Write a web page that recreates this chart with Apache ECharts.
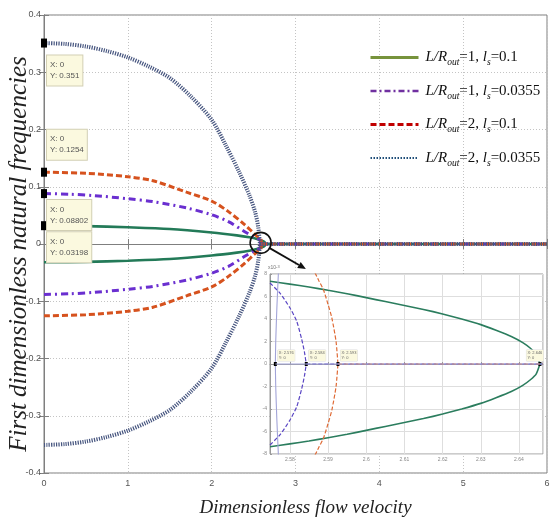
<!DOCTYPE html>
<html>
<head>
<meta charset="utf-8">
<title>First dimensionless natural frequencies</title>
<script src="https://cdn.jsdelivr.net/npm/echarts@6.0.0/dist/echarts.min.js"></script>
<style>
html, body { margin: 0; padding: 0; background: #fff; }
#box01 { width: 551px; height: 519px; }
</style>
</head>
<body>
<div id="box01"></div>
<script>
// ---- values (upper branches; the lower ones mirror them) ----
var nameA = 'L/Rout=1, ls=0.1';
var nameB = 'L/Rout=1, ls=0.0355';
var nameC = 'L/Rout=2, ls=0.1';
var nameD = 'L/Rout=2, ls=0.0355';

// main plot, dimensionless flow velocity / frequency
var velA  = [0, 0.5, 1.0, 1.5, 2.0, 2.3, 2.45, 2.55, 2.6, 2.63, 2.646];
var freqA = [0.03198, 0.0312, 0.0292, 0.0262, 0.0200, 0.0150, 0.0117, 0.0085, 0.0059, 0.0035, 0];

var velB  = [0, 0.3, 0.6, 1.0, 1.3, 1.7, 2.0, 2.2, 2.4, 2.5, 2.55, 2.575, 2.584];
var freqB = [0.08802, 0.0870, 0.0845, 0.0790, 0.0740, 0.0630, 0.0510, 0.0390, 0.0210, 0.0125, 0.0095, 0.0072, 0];

var velC  = [0, 0.5, 1.0, 1.3, 1.7, 2.0, 2.2, 2.4, 2.5, 2.55, 2.5867, 2.5926];
var freqC = [0.1254, 0.1235, 0.1175, 0.1105, 0.0905, 0.0750, 0.0565, 0.0330, 0.0190, 0.0125, 0.0083, 0];

var velD  = [0, 0.25, 0.5, 0.75, 1.0, 1.25, 1.5, 1.75, 2.0, 2.17, 2.33, 2.45, 2.52, 2.555, 2.576];
var freqD = [0.351, 0.3495, 0.345, 0.337, 0.326, 0.310, 0.290, 0.258, 0.217, 0.172, 0.125, 0.085, 0.055, 0.030, 0];

var xTicks = [0, 6];        // main x range
var yTicks = [-0.4, 0.4];   // main y range

// inset (zoom around the critical velocity), frequency in units of 1e-3
var insetVelA  = [2.5748, 2.58, 2.585, 2.59, 2.595, 2.60, 2.605, 2.61, 2.615, 2.62, 2.625, 2.63,
                  2.634, 2.638, 2.641, 2.643, 2.6445, 2.6455];
var insetFreqA = [7.35, 7.1, 6.85, 6.55, 6.25, 5.9, 5.55, 5.2, 4.85, 4.45, 4.0, 3.5,
                  3.0, 2.45, 1.9, 1.4, 0.9, 0];

var insetVelB  = [2.5748, 2.5774, 2.5800, 2.5818, 2.5831, 2.5838, 2.5843];
var insetFreqB = [7.2, 6.3, 5.0, 3.8, 2.2, 1.1, 0];

var insetVelC  = [2.5866, 2.5876, 2.5888, 2.5900, 2.5910, 2.5921, 2.5926];
var insetFreqC = [8.1, 7.4, 6.6, 5.3, 4.1, 2.0, 0];

var insetVelD  = [2.5770, 2.5766, 2.5763, 2.5762];
var insetFreqD = [8.1, 5.0, 2.0, 0];

var insetXRange = [2.5748, 2.6463];
var insetYRange = [-8, 8];
var insetTips = ['X: 2.576', 'X: 2.584', 'X: 2.593', 'X: 2.646'];

// ---- chart ----
var myChart = echarts.init(document.getElementById('box01'));

var serif = 'Liberation Serif, Times New Roman, serif';
var narrow = 'Liberation Sans Narrow, Arial Narrow, Liberation Sans, Arial, sans-serif';

var styleA = {color: '#237a58', width: 2.6, type: 'solid'};
var styleB = {color: '#6a2fd0', width: 3, type: [7, 4, 2, 4]};
var styleC = {color: '#d6521e', width: 3, type: [6, 3]};
var styleD = {color: '#46557f', width: 4, type: [1.2, 1.2]};

var insetStyleA = {color: '#2b7d5e', width: 1.6, type: 'solid'};
var insetStyleB = {color: '#5a46c4', width: 1.2, type: [4, 2]};
var insetStyleC = {color: '#df6a35', width: 1.2, type: [4, 2]};
var insetStyleD = {color: '#a2a4d8', width: 1.1, type: 'solid'};

function branch(name, xs, ys, sign, ls, axis, z, smooth) {
    return {
        name: name, type: 'line', xAxisIndex: axis, yAxisIndex: axis,
        symbol: 'none', smooth: smooth, z: z,
        lineStyle: ls, color: ls.color, emphasis: {disabled: true},
        data: xs.map(function (x, i) { return [x, sign * ys[i]]; })
    };
}

function tip(value, pos) {
    return {
        symbol: 'rect', symbolSize: [6, 9], itemStyle: {color: '#000'},
        label: {
            show: true, position: pos, formatter: 'X: 0\nY: ' + value,
            fontFamily: narrow, fontSize: 8, lineHeight: 11, color: '#555',
            backgroundColor: '#fbf9df', borderColor: '#d2cfb4', borderWidth: 1, padding: [4, 3, 4, 3]
        },
        data: [{coord: [0, value]}]
    };
}

function insetTip(x, text, pos) {
    return {
        symbol: 'rect', symbolSize: [3, 4], itemStyle: {color: '#000'},
        label: {
            show: true, position: pos, formatter: text + '\nY: 0',
            fontFamily: narrow, fontSize: 4, lineHeight: 4.5, color: '#666',
            backgroundColor: '#fbf9df', borderColor: '#ddd', borderWidth: 0.5, padding: [1, 1, 1, 1]
        },
        data: [{coord: [x, 0]}]
    };
}

var curves = [
    {name: nameA, vel: velA, freq: freqA, ls: styleA, tipPos: [6, 11],
     iv: insetVelA, ifr: insetFreqA, ils: insetStyleA, itip: insetTips[3], itipPos: [-12, -12]},
    {name: nameB, vel: velB, freq: freqB, ls: styleB, tipPos: [6, 11],
     iv: insetVelB, ifr: insetFreqB, ils: insetStyleB, itip: insetTips[1], itipPos: [4, -12]},
    {name: nameC, vel: velC, freq: freqC, ls: styleC, tipPos: [6, -38],
     iv: insetVelC, ifr: insetFreqC, ils: insetStyleC, itip: insetTips[2], itipPos: [4, -12]},
    {name: nameD, vel: velD, freq: freqD, ls: styleD, tipPos: [6, 17],
     iv: insetVelD, ifr: insetFreqD, ils: insetStyleD, itip: insetTips[0], itipPos: [4, -12]}
];

var series = [];
curves.forEach(function (c) {
    var up = branch(c.name, c.vel, c.freq, 1, c.ls, 0, 2, 0.3);
    up.markPoint = tip(c.freq[0], c.tipPos);
    series.push(up);
    series.push(branch(c.name, c.vel, c.freq, -1, c.ls, 0, 2, 0.3));
});
curves.forEach(function (c) {
    series.push(branch(c.name, [c.vel[c.vel.length - 1], xTicks[1]], [0, 0], 1, c.ls, 0, 3, false));
});
curves.forEach(function (c) {
    series.push(branch(c.name, c.iv, c.ifr, 1, c.ils, 2, 4, 0.2));
    series.push(branch(c.name, c.iv, c.ifr, -1, c.ils, 2, 4, 0.2));
});
curves.forEach(function (c) {
    var zero = branch(c.name, [c.iv[c.iv.length - 1], insetXRange[1]], [0, 0], 1, c.ils, 2, 5, false);
    zero.markPoint = insetTip(c.iv[c.iv.length - 1], c.itip, c.itipPos);
    series.push(zero);
});

var legendRich = {};
legendRich[nameA] = '{i|L/R}{s|out}{n|=1, }{i|l}{s|s}{n|=0.1}';
legendRich[nameB] = '{i|L/R}{s|out}{n|=1, }{i|l}{s|s}{n|=0.0355}';
legendRich[nameC] = '{i|L/R}{s|out}{n|=2, }{i|l}{s|s}{n|=0.1}';
legendRich[nameD] = '{i|L/R}{s|out}{n|=2, }{i|l}{s|s}{n|=0.0355}';

var hideDot = {color: 'rgba(0,0,0,0)', borderColor: 'rgba(0,0,0,0)', borderWidth: 0};

var axisGrey = '#7f7f7f';
var mainLabel = {fontFamily: narrow, fontSize: 9, color: '#555'};

var option = {
    animation: false,
    backgroundColor: '#fff',
    grid: [
        {left: 44, right: 4, top: 15, bottom: 46, outerBoundsMode: 'none', containLabel: false,
         show: true, borderColor: axisGrey, borderWidth: 1, z: 0},
        {left: 270, top: 274, width: 273, height: 180, outerBoundsMode: 'none', containLabel: false,
         show: true, backgroundColor: '#fff', borderColor: '#999', borderWidth: 1, z: 1}
    ],
    legend: {
        orient: 'vertical', left: 364, top: 45, itemWidth: 48, itemHeight: 12, itemGap: 16,
        selectedMode: false,
        formatter: function (name) { return legendRich[name]; },
        textStyle: {
            padding: [0, 0, 0, 2],
            rich: {
                i: {fontFamily: serif, fontStyle: 'italic', fontSize: 15, color: '#111', lineHeight: 20},
                n: {fontFamily: serif, fontSize: 15, color: '#111', lineHeight: 20},
                s: {fontFamily: serif, fontStyle: 'italic', fontSize: 9.5, color: '#111', lineHeight: 20, verticalAlign: 'bottom'}
            }
        },
        data: [
            {name: nameA, itemStyle: hideDot, lineStyle: {color: '#77933c', width: 3, type: 'solid'}},
            {name: nameB, itemStyle: hideDot, lineStyle: {color: '#7030a0', width: 2.5, type: [6, 3, 2, 3]}},
            {name: nameC, itemStyle: hideDot, lineStyle: {color: '#c00000', width: 3, type: [6, 3]}},
            {name: nameD, itemStyle: hideDot, lineStyle: {color: '#1f4e79', width: 2, type: [1.5, 1.5]}}
        ]
    },
    xAxis: [
        {gridIndex: 0, type: 'value', min: xTicks[0], max: xTicks[1], interval: 1, z: 0,
         name: 'Dimensionless flow velocity', nameLocation: 'middle', nameGap: 25, nameMoveOverlap: false,
         nameTextStyle: {fontFamily: serif, fontStyle: 'italic', fontSize: 19, color: '#222', padding: [0, 0, 0, 20]},
         axisLine: {lineStyle: {color: axisGrey}},
         axisTick: {inside: true, length: 5, lineStyle: {color: axisGrey}},
         axisLabel: Object.assign({margin: 6}, mainLabel),
         splitLine: {show: true, lineStyle: {color: '#c4c4c4', type: [1, 2]}}},
        {gridIndex: 0, type: 'value', position: 'top', min: xTicks[0], max: xTicks[1], interval: 1, z: 0,
         axisLine: {lineStyle: {color: axisGrey}},
         axisTick: {inside: true, length: 5, lineStyle: {color: axisGrey}},
         axisLabel: {show: false}, splitLine: {show: false}},
        {gridIndex: 1, type: 'value', min: insetXRange[0], max: insetXRange[1], splitNumber: 7, z: 2,
         axisLine: {lineStyle: {color: '#999'}},
         axisTick: {inside: true, length: 2, lineStyle: {color: '#999'}},
         axisLabel: {fontFamily: narrow, fontSize: 5, color: '#888', margin: 3, showMinLabel: false, showMaxLabel: false},
         splitLine: {show: true, lineStyle: {color: '#dedede', width: 1}}}
    ],
    yAxis: [
        {gridIndex: 0, type: 'value', min: yTicks[0], max: yTicks[1], interval: 0.1, z: 0,
         name: 'First dimensionless natural frequencies', nameLocation: 'middle', nameGap: 12, nameMoveOverlap: false,
         nameTextStyle: {fontFamily: serif, fontStyle: 'italic', fontSize: 25, color: '#222', padding: [0, 20, 0, 0]},
         axisLine: {lineStyle: {color: axisGrey}},
         axisTick: {inside: true, length: 5, lineStyle: {color: axisGrey}},
         axisLabel: Object.assign({margin: 3}, mainLabel),
         splitLine: {show: true, lineStyle: {color: '#c4c4c4', type: [1, 2]}}},
        {gridIndex: 0, type: 'value', position: 'right', min: yTicks[0], max: yTicks[1], interval: 0.1, z: 0,
         axisLine: {lineStyle: {color: axisGrey}},
         axisTick: {inside: true, length: 5, lineStyle: {color: axisGrey}},
         axisLabel: {show: false}, splitLine: {show: false}},
        {gridIndex: 1, type: 'value', min: insetYRange[0], max: insetYRange[1], interval: 2, z: 2,
         axisLine: {lineStyle: {color: '#999'}},
         axisTick: {inside: true, length: 2, lineStyle: {color: '#999'}},
         axisLabel: {fontFamily: narrow, fontSize: 5, color: '#888', margin: 3},
         splitLine: {show: true, lineStyle: {color: '#dedede', width: 1}}}
    ],
    series: series
};

myChart.setOption(option);

// circle round the critical point and the arrow pointing at the inset
var zoomSpot = [2.584, 0.002];
var arrowTip = [2.5842, 8.45];

function drawNotes() {
    var c = myChart.convertToPixel({xAxisIndex: 0, yAxisIndex: 0}, zoomSpot);
    var e = myChart.convertToPixel({xAxisIndex: 2, yAxisIndex: 2}, arrowTip);
    var t = myChart.convertToPixel({xAxisIndex: 2, yAxisIndex: 2}, [insetXRange[0], insetYRange[1]]);
    var dx = e[0] - c[0], dy = e[1] - c[1];
    var len = Math.sqrt(dx * dx + dy * dy);
    var ux = dx / len, uy = dy / len;
    var r = 10.5, head = 8, half = 3.5;
    var bx = e[0] - ux * head, by = e[1] - uy * head;
    myChart.setOption({
        graphic: [
            {type: 'circle', silent: true, z: 20, shape: {cx: c[0], cy: c[1], r: r},
             style: {fill: 'none', stroke: '#111', lineWidth: 1.6}},
            {type: 'line', silent: true, z: 20,
             shape: {x1: c[0] + ux * r, y1: c[1] + uy * r, x2: bx, y2: by},
             style: {stroke: '#111', lineWidth: 1.8}},
            {type: 'polygon', silent: true, z: 20,
             shape: {points: [[e[0], e[1]], [bx - uy * half, by + ux * half], [bx + uy * half, by - ux * half]]},
             style: {fill: '#111'}},
            {type: 'text', silent: true, z: 20, x: t[0] - 2, y: t[1] - 9,
             style: {text: '{a|x10}{b|-3}', rich: {
                 a: {fontFamily: narrow, fontSize: 5, fill: '#777'},
                 b: {fontFamily: narrow, fontSize: 4, fill: '#777', verticalAlign: 'top'}}}}
        ]
    });
}
drawNotes();
</script>
</body>
</html>
